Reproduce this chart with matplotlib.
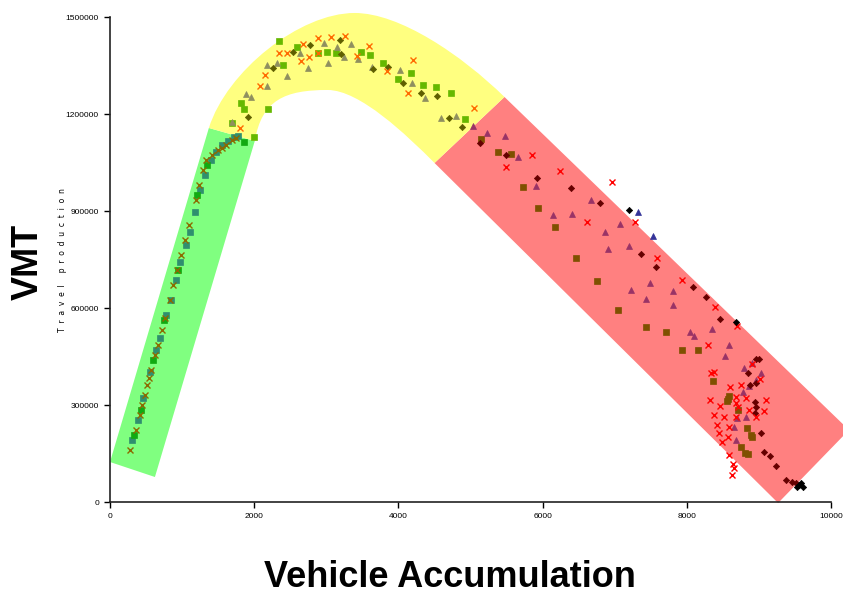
import matplotlib
matplotlib.use("Agg")
import matplotlib.pyplot as plt
from matplotlib import font_manager
from matplotlib.patches import Polygon, PathPatch
from matplotlib.path import Path

# ---- background regimes (corners in data units) ----
green_band = [(0, 123700), (623, 77300), (2008, 1116600), (1371, 1156800)]
red_band = [(4501, 1048500), (5471, 1252700), (10249, 222700), (9266, -3100)]
# yellow arc: outer curve (two cubic segments), then inner curve back
yellow_outer = [(1371, 1156800), (1620, 1333100), (2632, 1512500), (3393, 1512500),
                (4017, 1512500), (4875, 1382600), (5471, 1252700)]
yellow_inner = [(4501, 1048500), (4113, 1135100), (3463, 1274300), (3019, 1274300),
                (2424, 1274300), (2105, 1243400), (2008, 1116600)]

# ---- observations: vehicle accumulation vs VMT ----
# uncongested (green)
olive_x_acc = [277, 360, 415, 443, 485, 512, 540, 568, 623, 665, 720, 762, 831, 873, 928,
               983, 1039, 1094, 1191, 1233, 1288, 1330, 1413, 1496, 1551, 1607, 1690, 1745]
olive_x_vmt = [160800, 222700, 269100, 300000, 331000, 361900, 383500, 408300, 454700,
               485600, 532000, 569100, 624800, 671200, 717600, 764000, 810400, 856800,
               934100, 980500, 1026900, 1057800, 1073300, 1088700, 1094900, 1104200,
               1119700, 1125900]
teal_sq_acc = [305, 388, 457, 554, 637, 693, 776, 845, 914, 970, 1053, 1108, 1177, 1247,
               1316, 1399, 1468, 1551, 1634, 1717, 1773]
teal_sq_vmt = [191800, 253600, 321700, 402100, 470100, 507300, 578400, 624800, 686700,
               742300, 794900, 835100, 897000, 965000, 1011400, 1057800, 1082600, 1104200,
               1116600, 1128900, 1132000]
green_sq_acc = [332, 429, 596, 748, 942, 1205, 1343, 1856]
green_sq_vmt = [207200, 284600, 439200, 562900, 717600, 949600, 1042300, 1113500]

# near capacity (yellow)
lime_sq_acc = [2341, 2590, 1814, 1856, 2188, 1994, 1690, 2881, 3005, 3130, 2396, 3476,
               3601, 3781, 3989, 4169, 4335, 4515, 4723, 4917]
lime_sq_vmt = [1425900, 1407300, 1234100, 1215500, 1215500, 1128900, 1172200, 1388800,
               1391900, 1388800, 1351600, 1391900, 1382600, 1357800, 1308300, 1326900,
               1289800, 1283600, 1265000, 1184600]
khaki_tri_acc = [2174, 2313, 2451, 1884, 1953, 2174, 2964, 3019, 3241, 3338, 3144, 2632,
                 2742, 1690, 3435, 4017, 4183, 4363, 4584, 4792, 3629]
khaki_tri_vmt = [1351600, 1357800, 1317600, 1261900, 1252700, 1286700, 1419700, 1357800,
                 1376400, 1416600, 1407300, 1388800, 1342400, 1175300, 1370200, 1336200,
                 1296000, 1249600, 1187700, 1193900, 1345500]
orange_x_acc = [2341, 2451, 2673, 2881, 3061, 3255, 2645, 2756, 2881, 2147, 2078, 1801,
                3421, 3587, 3836, 4197, 4127, 5055]
orange_x_vmt = [1388800, 1388800, 1416600, 1435200, 1438200, 1441300, 1364000, 1376400,
                1388800, 1320700, 1286700, 1156800, 1379500, 1410400, 1333100, 1367100,
                1265000, 1218600]
dolive_dia_acc = [2258, 2535, 2770, 3199, 1911, 3186, 3643, 3850, 4058, 4307, 4529, 4695, 4875]
dolive_dia_vmt = [1342400, 1391900, 1413500, 1385700, 1190800, 1429000, 1339300, 1345500,
                  1296000, 1265000, 1255800, 1187700, 1159900]

# congested (red)
purple_tri_acc = [5028, 5235, 5485, 5665, 5914, 6149, 6413, 6676, 6870, 7077, 6911, 7202,
                  7493, 7230, 7811, 7437, 7811, 8047, 8102, 8352, 8587, 8532, 8795, 8906,
                  9030, 8864, 8961, 8781, 8698, 8684, 8822, 8656]
purple_tri_vmt = [1163000, 1141300, 1132000, 1067100, 977400, 887700, 890800, 934100,
                  835100, 859900, 782500, 791800, 677400, 655700, 652600, 627900, 609300,
                  525800, 513400, 535100, 485600, 451600, 414500, 429900, 399000, 358800,
                  377300, 340200, 259800, 191800, 262900, 232000]
brown_sq_acc = [5152, 5388, 5568, 5734, 5942, 6177, 6468, 6759, 7050, 7437, 7714, 7936,
                8158, 8365, 8573, 8587, 8712, 8836, 8892, 8753, 8850, 8906, 8809, 8559]
brown_sq_vmt = [1122800, 1082600, 1076400, 974300, 909300, 850600, 754700, 683600, 593900,
                541300, 525800, 470100, 470100, 374300, 318600, 327900, 284600, 228900,
                207200, 170100, 148500, 201000, 151600, 312400]
maroon_dia_acc = [5125, 5498, 5928, 6399, 6800, 7368, 7576, 8088, 8268, 8462, 8961, 8850,
                  8947, 8961, 9030, 9072, 9155, 9238, 9376, 9460, 9515, 8947, 9003, 8961, 8878]
maroon_dia_vmt = [1110400, 1073300, 1002100, 971200, 924800, 767100, 726900, 665000,
                  634100, 566000, 442300, 399000, 309300, 293800, 213400, 154700, 142300,
                  111300, 68000, 61900, 58800, 275300, 442300, 368100, 361900]
black_dia_acc = [7202, 8684, 9557, 9529, 9584, 9612]
black_dia_vmt = [903200, 556700, 52600, 46400, 58800, 46400]
blue_tri_acc = [7327, 7534]
blue_tri_vmt = [897000, 822700]
red_x_acc = [5859, 5498, 6246, 6967, 6620, 7285, 7590, 7936, 8393, 8698, 8296, 8338, 8379,
             8601, 8753, 9016, 8906, 8324, 8462, 8379, 8518, 8587, 8684, 8822, 9099, 9072,
             8449, 8490, 8573, 8587, 8642, 8629, 8656, 8684, 8712, 8961, 8421, 8684, 8864]
red_x_vmt = [1073300, 1036200, 1023800, 989800, 866000, 866000, 754700, 686600, 603100,
             544400, 485600, 399000, 402100, 355700, 361900, 380400, 426800, 315500, 296900,
             269100, 262900, 232000, 306200, 321700, 315500, 281500, 213400, 185600, 201000,
             145400, 117500, 83500, 105200, 262900, 293800, 262900, 238200, 324800, 284600]

x_ticks = [0, 2000, 4000, 6000, 8000, 10000]
y_ticks = [0, 300000, 600000, 900000, 1200000, 1500000]

# condensed tick font if it is there
names = {f.name for f in font_manager.fontManager.ttflist}
if "Liberation Sans Narrow" in names:
    tick_font, tick_size = "Liberation Sans Narrow", 7
else:
    tick_font, tick_size = "Liberation Sans", 6

fig = plt.figure(figsize=(8.43, 5.95), dpi=100)
ax = fig.add_axes([0.1305, 0.1563, 0.8553, 0.8151])
ax.set_xlim(0, 10000)
ax.set_ylim(0, 1500000)

ax.add_patch(Polygon(green_band, closed=True, fc="#80FF80", ec="none", zorder=1, clip_on=False))
ax.add_patch(Polygon(red_band, closed=True, fc="#FF8080", ec="none", zorder=1, clip_on=False))
codes = [Path.MOVETO] + [Path.CURVE4] * 6 + [Path.LINETO] + [Path.CURVE4] * 6 + [Path.CLOSEPOLY]
verts = yellow_outer + yellow_inner + [yellow_outer[0]]
ax.add_patch(PathPatch(Path(verts, codes), fc="#FFFF80", ec="none", zorder=1, clip_on=False))

series = [
    (teal_sq_acc, teal_sq_vmt, "s", "#2F8F6F", 4.0),
    (green_sq_acc, green_sq_vmt, "s", "#11AA11", 4.0),
    (olive_x_acc, olive_x_vmt, "x", "#8C6A00", 4.5),
    (lime_sq_acc, lime_sq_vmt, "s", "#66B800", 4.0),
    (khaki_tri_acc, khaki_tri_vmt, "^", "#8F8F5F", 4.5),
    (dolive_dia_acc, dolive_dia_vmt, "D", "#5F5F00", 3.2),
    (orange_x_acc, orange_x_vmt, "x", "#FF6A00", 5.0),
    (brown_sq_acc, brown_sq_vmt, "s", "#7F5000", 4.0),
    (purple_tri_acc, purple_tri_vmt, "^", "#993366", 4.5),
    (maroon_dia_acc, maroon_dia_vmt, "D", "#660000", 3.2),
    (red_x_acc, red_x_vmt, "x", "#FF0000", 5.0),
    (black_dia_acc, black_dia_vmt, "D", "#000000", 3.2),
    (blue_tri_acc, blue_tri_vmt, "^", "#333399", 4.5),
]
for xs, ys, m, c, s in series:
    ax.plot(xs, ys, linestyle="none", marker=m, color=c, markersize=s,
            markeredgewidth=1.0 if m == "x" else 0.5, zorder=3, clip_on=False)

for side in ["top", "right"]:
    ax.spines[side].set_visible(False)
for side in ["left", "bottom"]:
    ax.spines[side].set_linewidth(1.2)
    ax.spines[side].set_color("#222222")

ax.set_xticks(x_ticks)
ax.set_xticklabels([str(v) for v in x_ticks], family=tick_font, fontsize=tick_size)
ax.set_yticks(y_ticks)
ax.set_yticklabels([str(v) for v in y_ticks], family=tick_font, fontsize=tick_size)
ax.tick_params(direction="out", length=4, width=1, pad=4)

fig.text(0.033, 0.56, "VMT", rotation=90, ha="center", va="center",
         fontsize=26, fontweight="bold", family="Liberation Sans")
fig.text(0.074, 0.563, "  ".join("Travel production"), rotation=90, ha="center",
         va="center", fontsize=5.5)
fig.text(0.534, 0.03, "Vehicle Accumulation", ha="center", va="center",
         fontsize=26, fontweight="bold", family="Liberation Sans")

fig.savefig("out.png", dpi=100)
